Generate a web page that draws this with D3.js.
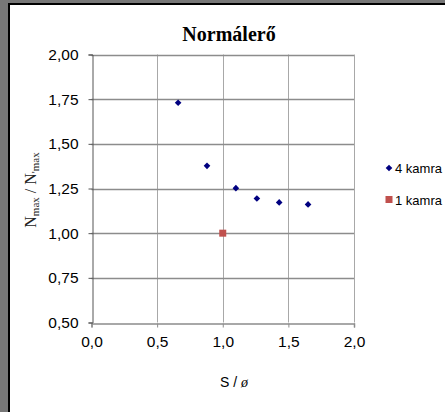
<!DOCTYPE html>
<html>
<head>
<meta charset="utf-8">
<script src="https://cdn.jsdelivr.net/npm/d3@7"></script>
<style>
  body { margin: 0; background: #7a7a7a; }
  #chart { position: absolute; left: 0; top: 0; }
</style>
</head>
<body>
<div id="chart"></div>
<script>
// values
const kamra4X = [0.66, 0.88, 1.10, 1.26, 1.43, 1.65]
const kamra4Y = [1.73, 1.377, 1.252, 1.194, 1.172, 1.161]
const kamra1X = [1.0]
const kamra1Y = [1.0]
const xTicks = [0, 0.5, 1.0, 1.5, 2.0]
const yTicks = [0.5, 0.75, 1.0, 1.25, 1.5, 1.75, 2.0]
const seriesNames = ["4 kamra", "1 kamra"]

const W = 445, H = 412
const svg = d3.select("#chart").append("svg").attr("width", W).attr("height", H)

// frame: grey outside, black edge, white chart
svg.append("rect").attr("x", 0).attr("y", 0).attr("width", W).attr("height", H).attr("fill", "#777")
svg.append("rect").attr("x", 8).attr("y", 3).attr("width", W - 8).attr("height", H - 3).attr("fill", "#000")
svg.append("rect").attr("x", 10).attr("y", 5).attr("width", W - 10).attr("height", H - 5).attr("fill", "#fff")

const x = d3.scaleLinear().domain([0, 2]).range([91.5, 354])
const y = d3.scaleLinear().domain([0.5, 2]).range([322.5, 54.5])
const comma = d => d3.format(".1f")(d).replace(".", ",")
const comma2 = d => d3.format(".2f")(d).replace(".", ",")

// gridlines
svg.append("g").selectAll("line").data(xTicks.slice(1)).enter().append("line")
  .attr("x1", d => Math.round(x(d)) + 0.5).attr("x2", d => Math.round(x(d)) + 0.5)
  .attr("y1", y(2)).attr("y2", y(0.5))
  .attr("stroke", "#a8a8a8").attr("stroke-width", 1)
svg.append("g").selectAll("line").data(yTicks.slice(1)).enter().append("line")
  .attr("x1", x(0)).attr("x2", x(2))
  .attr("y1", d => Math.round(y(d)) + 0.5).attr("y2", d => Math.round(y(d)) + 0.5)
  .attr("stroke", "#8c8c8c").attr("stroke-width", 1.3)

// axes
const xAxis = svg.append("g").attr("transform", `translate(0,${Math.round(y(0.5)) + 0.5})`)
  .call(d3.axisBottom(x).tickValues(xTicks).tickFormat(comma).tickSize(4).tickPadding(8))
const yAxis = svg.append("g").attr("transform", `translate(${Math.round(x(0)) + 0.5},0)`)
  .call(d3.axisLeft(y).tickValues(yTicks).tickFormat(comma2).tickSize(4).tickPadding(10))
xAxis.select(".domain").attr("stroke", "#8c8c8c").attr("stroke-width", 1.5)
xAxis.selectAll(".tick line").attr("stroke", "#8c8c8c")
yAxis.select(".domain").attr("stroke", "#555")
yAxis.selectAll(".tick line").attr("stroke", "#555")
svg.selectAll(".tick text").attr("font-family", "Liberation Sans, Arial, sans-serif")
  .attr("font-size", 15.5).attr("fill", "#000")

// points - excel diamond is a square turned 45 degrees
const diamond = d3.symbol().type(d3.symbolSquare).size(22)
const pts4 = kamra4X.map((v, i) => [v, kamra4Y[i]])
const pts1 = kamra1X.map((v, i) => [v, kamra1Y[i]])
svg.append("g").selectAll("path").data(pts4).enter().append("path")
  .attr("d", diamond)
  .attr("transform", d => `translate(${x(d[0])},${y(d[1])}) rotate(45)`)
  .attr("fill", "#000080")
svg.append("g").selectAll("rect").data(pts1).enter().append("rect")
  .attr("x", d => x(d[0]) - 3.5).attr("y", d => y(d[1]) - 3.5)
  .attr("width", 7).attr("height", 7)
  .attr("fill", "#c0504d")

// title
svg.append("text").attr("x", 229).attr("y", 41).attr("text-anchor", "middle")
  .attr("font-family", "Liberation Serif, Times New Roman, serif").attr("font-weight", "bold")
  .attr("font-size", 20).text("Normálerő")

// axis titles
svg.append("text").attr("x", 234).attr("y", 387).attr("text-anchor", "middle")
  .attr("font-family", "Liberation Sans, Arial, sans-serif").attr("font-size", 14)
  .text("S / ").append("tspan").attr("font-family", "Liberation Serif, serif").attr("font-style", "italic").text("ø")

const yt = svg.append("text").attr("transform", "translate(36,190) rotate(-90)").attr("text-anchor", "middle")
  .attr("font-family", "Liberation Serif, Times New Roman, serif").attr("font-size", 16).attr("fill", "#222")
yt.append("tspan").text("N")
yt.append("tspan").attr("font-size", 11).attr("dy", 3).text("max")
yt.append("tspan").attr("dy", -3).text(" / N")
yt.append("tspan").attr("font-size", 11).attr("dy", 3).text("'max")

// legend
const leg = svg.append("g").selectAll("g").data(seriesNames).enter().append("g")
  .attr("transform", (d, i) => `translate(389,${168 + i * 31.5})`)
leg.filter((d, i) => i === 0).append("path")
  .attr("d", diamond).attr("transform", "rotate(45)").attr("fill", "#000080")
leg.filter((d, i) => i === 1).append("rect")
  .attr("x", -3.5).attr("y", -3.5).attr("width", 7).attr("height", 7).attr("fill", "#c0504d")
leg.append("text").attr("x", 6).attr("y", 5)
  .attr("font-family", "Liberation Sans, Arial, sans-serif").attr("font-size", 13).text(d => d)
</script>
</body>
</html>
